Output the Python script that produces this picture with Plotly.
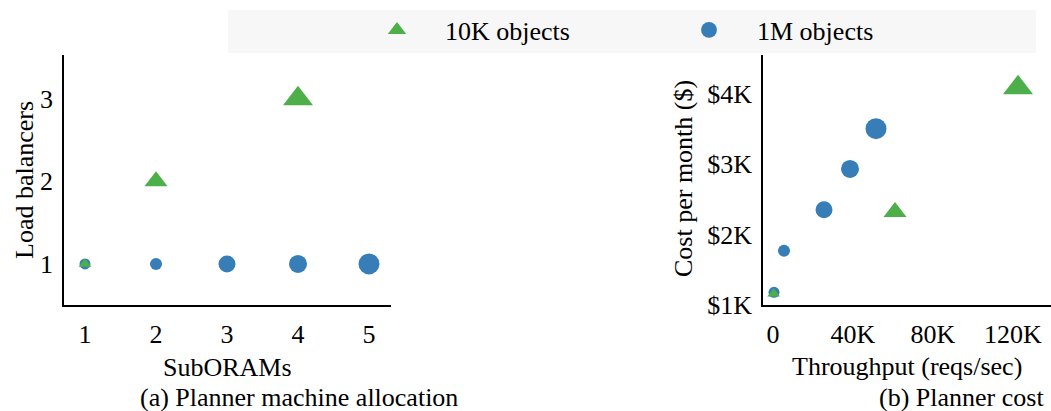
import plotly.graph_objects as go

# (a) Planner machine allocation
suborams_10k = [1, 2, 4]
load_balancers_10k = [1, 2, 3]
suborams_1m = [1, 2, 3, 4, 5]
load_balancers_1m = [1, 1, 1, 1, 1]

# (b) Planner cost
throughput_10k = [300, 61000, 122500]
cost_10k = [1160, 2320, 4080]
throughput_1m = [500, 5500, 25500, 38500, 51500]
cost_1m = [1180, 1770, 2350, 2930, 3500]

cost_ticks = [1000, 2000, 3000, 4000]
cost_tick_labels = ["$1K", "$2K", "$3K", "$4K"]
tput_ticks = [0, 40000, 80000, 120000]
tput_tick_labels = ["0", "40K", "80K", "120K"]

GREEN = "#4daf4a"
BLUE = "#377eb8"
FONT = "'Liberation Serif', 'Times New Roman', serif"
FS = 26

tri_sizes = [11, 20, 26]
circ_sizes = [11, 12, 17, 18, 21]

fig = go.Figure()

# circles first so the triangles sit on top where they overlap
fig.add_trace(go.Scatter(
    x=suborams_1m, y=load_balancers_1m, mode="markers", name="1M objects",
    marker=dict(symbol="circle", color=BLUE, size=circ_sizes, opacity=1, line=dict(width=0)),
    xaxis="x", yaxis="y", legendrank=2, showlegend=True,
))
fig.add_trace(go.Scatter(
    x=suborams_10k, y=load_balancers_10k, mode="markers", name="10K objects",
    marker=dict(symbol="triangle-up", color=GREEN, size=tri_sizes, opacity=1, line=dict(width=0)),
    xaxis="x", yaxis="y", legendrank=1, showlegend=True,
))
fig.add_trace(go.Scatter(
    x=throughput_1m, y=cost_1m, mode="markers", name="1M objects",
    marker=dict(symbol="circle", color=BLUE, size=circ_sizes, opacity=1, line=dict(width=0)),
    xaxis="x2", yaxis="y2", showlegend=False,
))
fig.add_trace(go.Scatter(
    x=throughput_10k, y=cost_10k, mode="markers", name="10K objects",
    marker=dict(symbol="triangle-up", color=GREEN, size=tri_sizes, opacity=1, line=dict(width=0)),
    xaxis="x2", yaxis="y2", showlegend=False,
))

W, H = 1051, 411


def px_x(p):
    return p / W


def px_y(p):
    return 1 - p / H


axis_common = dict(
    showgrid=False, zeroline=False, showline=True, linecolor="black", linewidth=1.5,
    ticks="", automargin=False, tickfont=dict(family=FONT, size=FS, color="black"),
)

fig.update_layout(
    width=W, height=H,
    margin=dict(l=0, r=0, t=0, b=0, pad=0, autoexpand=False),
    paper_bgcolor="white", plot_bgcolor="white",
    font=dict(family=FONT, size=FS, color="black"),
    xaxis=dict(domain=[px_x(64), px_x(391)], range=[0.704, 5.31],
               tickvals=[1, 2, 3, 4, 5], anchor="y", ticklabelstandoff=5, **axis_common),
    yaxis=dict(domain=[px_y(305), px_y(55)], range=[0.503, 3.53],
               tickvals=[1, 2, 3], anchor="x", ticklabelstandoff=4, **axis_common),
    xaxis2=dict(domain=[px_x(763), 1.0], range=[-5000, 139000],
                tickvals=tput_ticks, ticktext=tput_tick_labels, anchor="y2",
                ticklabelstandoff=5, **axis_common),
    yaxis2=dict(domain=[px_y(305), px_y(55)], range=[1000, 4545],
                tickvals=cost_ticks, ticktext=cost_tick_labels, anchor="x2",
                ticklabelstandoff=4, **axis_common),
    showlegend=True,
    legend=dict(
        orientation="h", x=px_x(349), y=px_y(30), xanchor="left", yanchor="middle",
        bgcolor="rgba(0,0,0,0)", font=dict(family=FONT, size=FS, color="black"),
        itemsizing="trace", entrywidth=211, entrywidthmode="pixels",
        itemwidth=86,
    ),
    shapes=[dict(
        type="rect", xref="paper", yref="paper",
        x0=px_x(228), x1=px_x(1036), y0=px_y(53), y1=px_y(10),
        fillcolor="#f7f7f7", line=dict(width=0), layer="below",
    )],
)

annotations = [
    dict(text="Load balancers", x=px_x(24), y=px_y(180), textangle=-90),
    dict(text="Cost per month ($)", x=px_x(683), y=px_y(179), textangle=-90),
    dict(text="SubORAMs", x=px_x(227), y=px_y(367)),
    dict(text="(a) Planner machine allocation", x=px_x(299), y=px_y(397)),
    dict(text="Throughput (reqs/sec)", x=px_x(907), y=px_y(366)),
    dict(text="(b) Planner cost", x=px_x(961), y=px_y(397)),
]
for a in annotations:
    fig.add_annotation(
        xref="paper", yref="paper", showarrow=False,
        xanchor="center", yanchor="middle",
        font=dict(family=FONT, size=FS, color="black"), **a,
    )

fig.write_html("out.html")
